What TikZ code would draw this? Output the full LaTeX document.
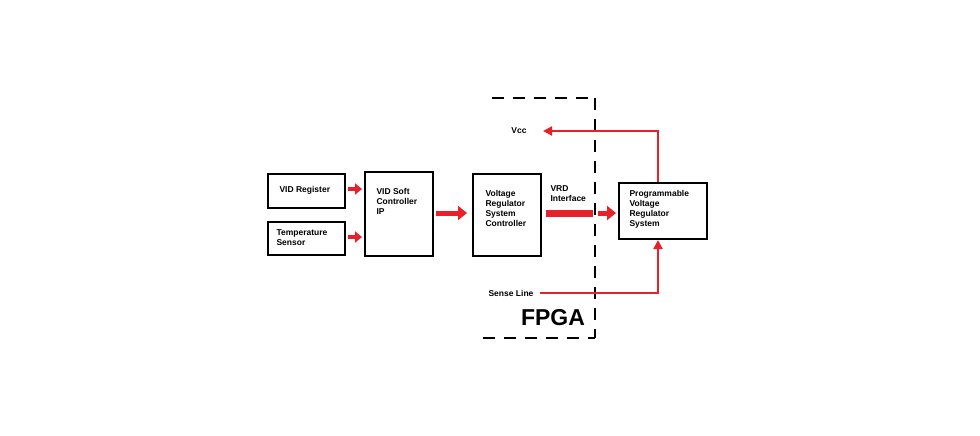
\documentclass[tikz,border=0pt]{standalone}
\usepackage{fontspec}
\setmainfont{Liberation Sans}
\usetikzlibrary{arrows.meta}
\definecolor{ar}{RGB}{232,32,40}
\begin{document}
\begin{tikzpicture}[x=1pt,y=-1pt,
  box/.style={draw,line width=2pt,inner sep=0pt,anchor=north west},
  lbl/.style={font=\bfseries\fontsize{8.5}{10}\selectfont,align=left},
  blk/.style={ar,line width=5pt,-{Triangle[length=9pt,width=14pt]}},
  thin/.style={ar,line width=2pt,-{Triangle[length=9pt,width=9pt]}}]
\useasboundingbox[fill=white] (0,0) rectangle (980,436);
\node[box,minimum width=77pt,minimum height=34pt] (vid) at (267,173) {};
\node[lbl,anchor=west] at (276,190) {VID Register};
\node[box,minimum width=77pt,minimum height=33pt] (temp) at (267,221) {};
\node[lbl,anchor=west] at (273,237.5) {Temperature\\Sensor};
\node[box,minimum width=68pt,minimum height=84pt] (soft) at (364,171) {};
\node[lbl,anchor=west] at (373,201) {VID Soft\\Controller\\IP};
\node[box,minimum width=68pt,minimum height=82pt] (vrsc) at (472,173) {};
\node[lbl,anchor=west] at (482,208) {Voltage\\Regulator\\System\\Controller};
\node[box,minimum width=88pt,minimum height=56pt] (pvrs) at (618,182) {};
\node[lbl,anchor=west] at (626,209) {Programmable\\Voltage\\Regulator\\System};
% FPGA dashed outline
\draw[line width=2.5pt,dash pattern=on 12pt off 9pt] (492,98) -- (595,98);
\draw[line width=2.5pt,dash pattern=on 12pt off 9pt] (595,98) -- (595,338);
\draw[line width=2.5pt,dash pattern=on 12pt off 9pt] (483,338) -- (595,338);
\node[font=\bfseries\fontsize{23}{26}\selectfont] (fpga) at (553,318) {FPGA};
% arrows
\coordinate (a1) at (348,189); \coordinate (a1e) at (362,189);
\draw[blk,line width=4pt,-{Triangle[length=7pt,width=11pt]}] (a1) -- (a1e);
\coordinate (a2) at (348,237); \coordinate (a2e) at (362,237);
\draw[blk,line width=4pt,-{Triangle[length=7pt,width=11pt]}] (a2) -- (a2e);
\coordinate (b1) at (436,213); \coordinate (b1e) at (467,213);
\draw[blk] (b1) -- (b1e);
\coordinate (c1) at (546,213); \coordinate (c1m) at (593,213);
\draw[ar,line width=7pt] (c1) -- (c1m);
\coordinate (c2) at (598,213); \coordinate (c2e) at (616,213);
\draw[blk] (c2) -- (c2e);
\node[lbl,anchor=west] at (547,194) {VRD\\Interface};
\node[lbl] (vcc) at (519,131) {Vcc};
\draw[thin] (pvrs.north -| 658,0) |- (543,131);
\node[lbl] (sense) at (511,293) {Sense Line};
\draw[thin] (540,293) -| (pvrs.south -| 658,0);
\end{tikzpicture}
\end{document}
